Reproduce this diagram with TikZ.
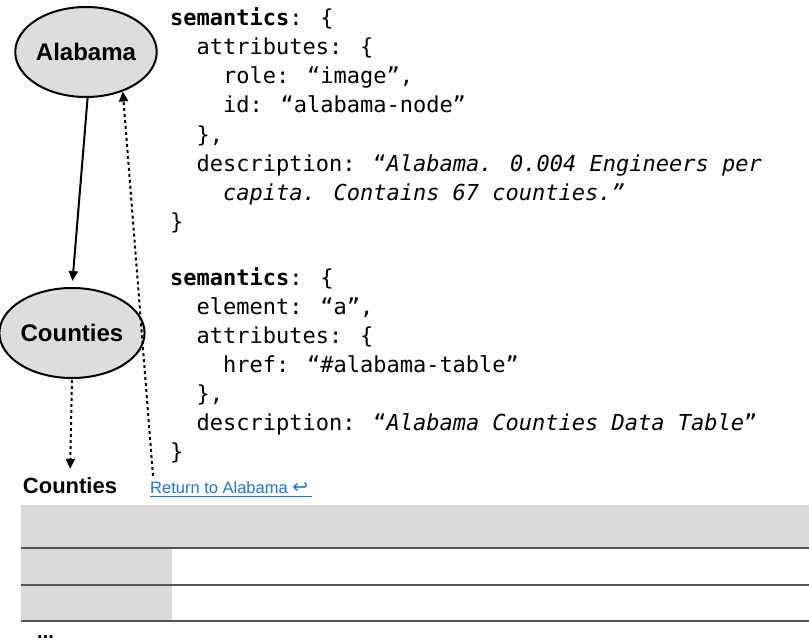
\documentclass[tikz,border=0pt]{standalone}
\usepackage{fontspec}
\setmainfont{Liberation Sans}
\newfontfamily\codefont{DejaVu Sans Mono}
\newfontfamily\arrowfont{DejaVu Sans}
\usetikzlibrary{shapes.geometric,arrows.meta}
\definecolor{nodegray}{HTML}{DDDDDD}
\definecolor{cellgray}{HTML}{D9D9D9}
\definecolor{rulegray}{HTML}{555555}
\definecolor{linkblue}{HTML}{1F75E0}
\tikzset{
  region/.style={ellipse, draw, fill=nodegray, line width=2pt, minimum width=128pt,
    minimum height=90pt, inner sep=0pt, font=\bfseries\fontsize{24}{28}\selectfont},
  code/.style={anchor=base west, inner sep=0pt, font=\codefont\fontsize{22}{29}\selectfont},
  navarrow/.style={line width=2pt, -{Triangle[width=9pt,length=10pt]}},
  jumparrow/.style={navarrow, dash pattern=on 3pt off 3pt},
}
\begin{document}
\begin{tikzpicture}[x=1pt,y=-1pt] % picture in pixel units
  \useasboundingbox (0,0) rectangle (809,642);
    % graph nodes
  \node[region] (ala) at (86,52) {Alabama};
  \node[region] (cty) at (72,333) {Counties};
  \node[anchor=base, inner sep=1pt, font=\bfseries\fontsize{22}{26}\selectfont] (ctylbl) at (70,493) {Counties};
  \node[anchor=base west, inner sep=0pt, text=linkblue, font=\fontsize{16.5}{20}\selectfont] (ret) at (150,493) {Return to Alabama {\arrowfont\fontsize{19}{20}\selectfont ↩}};
  \draw[linkblue, line width=1.2pt] ([yshift=-3.5pt]ret.base west) -- ([yshift=-3.5pt,xshift=4pt]ret.base east); % underline
    % connectors
  \draw[navarrow, shorten >=6pt] (ala.272) -- (cty.90);
  \draw[jumparrow, shorten <=1pt, shorten >=7pt] (cty.south) -- (ctylbl.north);
  \draw[jumparrow] ([xshift=3pt,yshift=5pt]ret.north west) -- (ala.313); % back to Alabama
    % semantics of Alabama
  \node[code] (ala0) at (170,26) {\textbf{semantics}: \{};
  \node[code] (ala1) at (196.5,55) {attributes: \{};
  \node[code] (ala2) at (223,84) {role: “image”,};
  \node[code] (ala3) at (223,113) {id: “alabama-node”};
  \node[code] (ala4) at (196.5,142) {\},};
  \node[code] (ala5) at (196.5,171) {description: “\textit{Alabama. 0.004 Engineers per}};
  \node[code] (ala6) at (223,200) {\textit{capita. Contains 67 counties.”}};
  \node[code] (ala7) at (170,229) {\}};
    % semantics of the link
  \node[code] (lnk0) at (170,285) {\textbf{semantics}: \{};
  \node[code] (lnk1) at (196.5,314) {element: “a”,};
  \node[code] (lnk2) at (196.5,343) {attributes: \{};
  \node[code] (lnk3) at (223,372) {href: “\#alabama-table”};
  \node[code] (lnk4) at (196.5,401) {\},};
  \node[code] (lnk5) at (196.5,430) {description: “\textit{Alabama Counties Data Table}”};
  \node[code] (lnk6) at (170,459) {\}};
    % table of counties
  \fill[cellgray] (21,505) rectangle (809,548); % header
  \fill[cellgray] (21,548) rectangle (172,621); % first column
  \foreach \y in {548,585,621}
    \draw[rulegray, line width=1.5pt] (21,\y) -- (809,\y);
  \node[anchor=base west, inner sep=0pt, font=\bfseries\fontsize{20}{22}\selectfont] (more) at (37,638) {...};
\end{tikzpicture}
\end{document}
